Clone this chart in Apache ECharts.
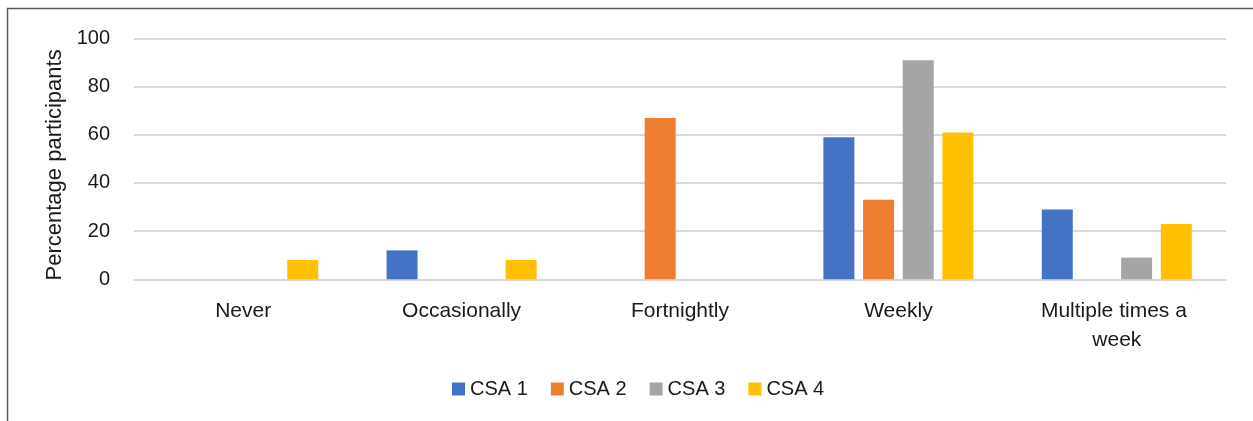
<!DOCTYPE html>
<html>
<head>
<meta charset="utf-8">
<script src="https://cdn.jsdelivr.net/npm/echarts@6/dist/echarts.min.js"></script>
<style>
  html, body { margin: 0; padding: 0; background: #fff; }
  #main { width: 1253px; height: 421px; }
</style>
</head>
<body>
<div id="main"></div>
<script>
var categories = ['Never', 'Occasionally', 'Fortnightly', 'Weekly', 'Multiple times a week'];
var seriesNames = ['CSA 1', 'CSA 2', 'CSA 3', 'CSA 4'];
var csa1 = [0, 12, 0, 59, 29];
var csa2 = [0, 0, 67, 33, 0];
var csa3 = [0, 0, 0, 91, 9];
var csa4 = [8, 8, 0, 61, 23];
var yTicks = [0, 20, 40, 60, 80, 100];

var colors = ['#4472C4', '#ED7D31', '#A5A5A5', '#FFC000'];
var font = 'Liberation Sans, Arial, sans-serif';

var chart = echarts.init(document.getElementById('main'));

function makeBar(name, data){
	return {
		name: name,
		type: 'bar',
		data: data,
		barWidth: 31,
		barGap: '28%',
		barCategoryGap: '31%'
	};
}

var option = {
	color: colors,
	animation: false,
	graphic: [
		{
			type: 'rect',
			shape: { x: 7.5, y: 8.5, width: 1400, height: 600 },
			style: { fill: 'none', stroke: '#595959', lineWidth: 1.5 },
			silent: true
		}
	],
	grid: { left: 134, right: 27, top: 38.5, bottom: 141.7 },
	legend: {
		data: seriesNames,
		left: 447,
		top: 374,
		itemWidth: 13,
		itemHeight: 13,
		itemGap: 23,
		icon: 'rect',
		textStyle: { fontFamily: font, fontSize: 20, color: '#1a1a1a', padding: [0, 0, 0, 0] }
	},
	xAxis: {
		type: 'category',
		data: categories,
		axisLine: { lineStyle: { color: '#d9d9d9', width: 2 } },
		axisTick: { show: false },
		axisLabel: {
			margin: 17,
			fontFamily: font,
			fontSize: 21,
			color: '#1a1a1a',
			lineHeight: 29,
			width: 180,
			overflow: 'break',
			interval: 0
		}
	},
	yAxis: {
		type: 'value',
		min: yTicks[0],
		max: yTicks[yTicks.length - 1],
		interval: 20,
		name: 'Percentage participants',
		nameLocation: 'middle',
		nameGap: 68,
		nameTextStyle: { fontFamily: font, fontSize: 22, color: '#1a1a1a', padding: [0, 0, 0, -12] },
		axisLine: { show: false },
		axisTick: { show: false },
		axisLabel: { margin: 24, fontFamily: font, fontSize: 20, color: '#1a1a1a' },
		splitLine: { lineStyle: { color: '#d9d9d9', width: 2 } }
	},
	series: [
		makeBar(seriesNames[0], csa1),
		makeBar(seriesNames[1], csa2),
		makeBar(seriesNames[2], csa3),
		makeBar(seriesNames[3], csa4)
	]
};

chart.setOption(option);
</script>
</body>
</html>
